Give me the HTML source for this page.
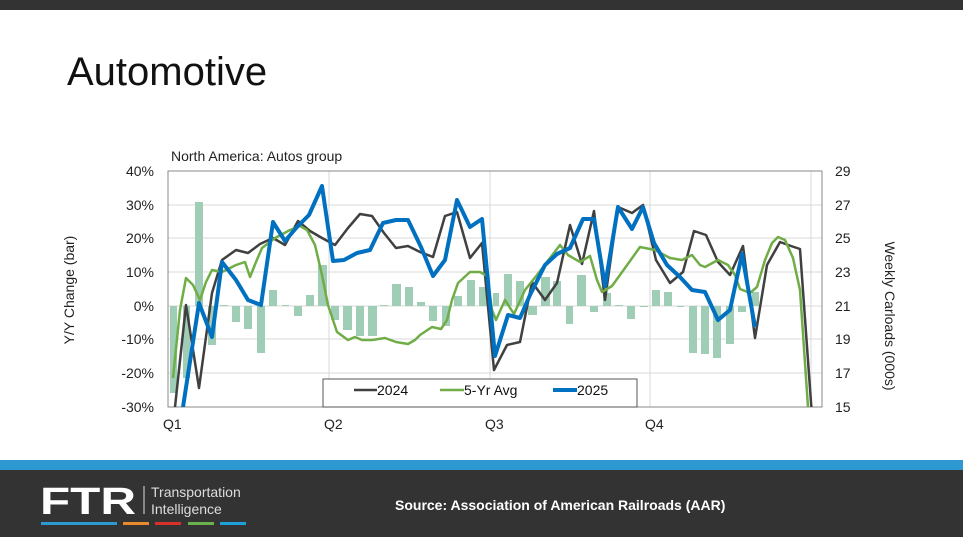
<!DOCTYPE html>
<html><head><meta charset="utf-8"><style>
body{margin:0;width:963px;height:537px;overflow:hidden;background:#fff;font-family:"Liberation Sans",sans-serif;position:relative}
</style></head><body>
<div style="position:absolute;left:0;top:0;width:963px;height:10px;background:#333"></div>
<div style="position:absolute;left:67px;top:50px;font-size:40px;color:#111">Automotive</div>
<svg style="position:absolute;left:0;top:0" width="963" height="537" font-family="Liberation Sans, sans-serif">
<text x="171" y="161" font-size="14" fill="#222">North America: Autos group</text>
<g stroke="#d9d9d9" stroke-width="1">
<line x1="168" y1="205" x2="822" y2="205"/><line x1="168" y1="238" x2="822" y2="238"/><line x1="168" y1="272" x2="822" y2="272"/><line x1="168" y1="306" x2="822" y2="306"/><line x1="168" y1="339" x2="822" y2="339"/><line x1="168" y1="373" x2="822" y2="373"/>
<line x1="329" y1="171" x2="329" y2="407"/><line x1="490" y1="171" x2="490" y2="407"/><line x1="650" y1="171" x2="650" y2="407"/><line x1="811" y1="171" x2="811" y2="407"/>
</g>
<rect x="168" y="171" width="654" height="236" fill="none" stroke="#888"/>
<g fill="#9fcdb5">
<rect x="170" y="306" width="7" height="87"/><rect x="183" y="306" width="7" height="72"/><rect x="195" y="202" width="8" height="104"/><rect x="208" y="306" width="8" height="39"/><rect x="220" y="305" width="8" height="1"/><rect x="232" y="306" width="8" height="16"/><rect x="244" y="306" width="8" height="23"/><rect x="257" y="306" width="8" height="47"/><rect x="269" y="290" width="8" height="16"/><rect x="282" y="305" width="7" height="1"/><rect x="294" y="306" width="8" height="10"/><rect x="306" y="295" width="8" height="11"/><rect x="318" y="265" width="9" height="41"/><rect x="331" y="306" width="8" height="14"/><rect x="343" y="306" width="9" height="24"/><rect x="356" y="306" width="8" height="30"/><rect x="368" y="306" width="9" height="30"/><rect x="380" y="305" width="8" height="1"/><rect x="392" y="284" width="9" height="22"/><rect x="405" y="287" width="8" height="19"/><rect x="417" y="302" width="8" height="4"/><rect x="429" y="306" width="8" height="15"/><rect x="442" y="306" width="8" height="20"/><rect x="454" y="296" width="8" height="10"/><rect x="467" y="280" width="8" height="26"/><rect x="479" y="287" width="8" height="19"/><rect x="493" y="293" width="6" height="13"/><rect x="504" y="274" width="8" height="32"/><rect x="516" y="281" width="8" height="25"/><rect x="528" y="306" width="9" height="9"/><rect x="541" y="277" width="9" height="29"/><rect x="553" y="281" width="8" height="25"/><rect x="566" y="306" width="7" height="18"/><rect x="577" y="275" width="9" height="31"/><rect x="590" y="306" width="8" height="6"/><rect x="603" y="293" width="8" height="13"/><rect x="615" y="305" width="8" height="1"/><rect x="627" y="306" width="8" height="13"/><rect x="640" y="306" width="8" height="1"/><rect x="652" y="290" width="8" height="16"/><rect x="664" y="292" width="8" height="14"/><rect x="677" y="306" width="7" height="1"/><rect x="689" y="306" width="8" height="47"/><rect x="701" y="306" width="8" height="48"/><rect x="713" y="306" width="8" height="52"/><rect x="726" y="306" width="8" height="38"/><rect x="738" y="306" width="8" height="6"/><rect x="752" y="292" width="7" height="14"/>
</g>
<clipPath id="c"><rect x="168" y="171" width="654" height="236"/></clipPath>
<g clip-path="url(#c)" fill="none" stroke-linejoin="round">
<polyline stroke="#404040" stroke-width="2.5" points="168,440 175,407 186,305 199,388 212,293 222,260 236,250 248,253 260,244 273,238 285,245 298,221 310,231 322,238 335,245 348,228 360,214 372,216 384,233 396,248 408,246 420,252 433,257 445,216 457,212 470,258 482,243 494,370 507,345 520,342 532,282 545,300 557,283 570,225 582,264 594,211 605,300 618,207 632,213 643,205 656,260 670,283 683,272 694,231 706,235 718,262 730,275 743,246 755,338 767,265 780,242 791,246 800,249 813,430"/>
<polyline stroke="#70ad47" stroke-width="2.5" points="173,378 180,310 186,278 193,285 200,300 206,282 212,270 222,272 236,265 245,262 250,277 256,262 262,248 275,238 290,230 300,226 307,230 315,245 322,275 328,305 337,332 348,340 355,337 362,340 372,340 385,338 396,342 408,344 415,340 420,335 432,327 441,329 447,320 452,300 458,283 470,272 480,272 487,276 492,310 496,320 505,300 514,314 525,290 537,275 550,258 560,245 568,255 580,262 590,256 597,280 602,292 612,286 625,268 640,247 655,250 670,258 682,260 692,255 700,265 705,267 718,260 728,265 735,275 740,289 750,293 757,287 765,260 772,243 778,237 785,240 793,258 800,290 808,407"/>
<polyline stroke="#0070c0" stroke-width="4" points="172,460 183,407 199,303 212,337 222,262 236,280 248,300 261,305 273,222 285,241 297,227 309,215 322,186 333,261 344,260 357,253 370,250 383,223 396,220 408,220 421,247 433,276 445,260 457,200 470,227 482,219 495,356 508,315 520,318 530,295 545,265 557,254 570,248 583,219 594,219 605,286 618,207 632,229 643,207 654,243 667,265 680,277 692,290 705,292 718,320 730,310 742,254 755,327"/>
</g>
<g font-size="14" fill="#222" text-anchor="end">
<text x="154" y="176">40%</text><text x="154" y="210">30%</text><text x="154" y="243">20%</text><text x="154" y="277">10%</text><text x="154" y="311">0%</text><text x="154" y="344">-10%</text><text x="154" y="378">-20%</text><text x="154" y="412">-30%</text>
</g>
<g font-size="14" fill="#222">
<text x="835" y="176">29</text><text x="835" y="210">27</text><text x="835" y="243">25</text><text x="835" y="277">23</text><text x="835" y="311">21</text><text x="835" y="344">19</text><text x="835" y="378">17</text><text x="835" y="412">15</text>
<text x="163" y="429">Q1</text><text x="324" y="429">Q2</text><text x="485" y="429">Q3</text><text x="645" y="429">Q4</text>
</g>
<text transform="translate(74,290) rotate(-90)" font-size="14" fill="#222" text-anchor="middle">Y/Y Change (bar)</text>
<text transform="translate(885,316) rotate(90)" font-size="14" fill="#222" text-anchor="middle">Weekly Carloads (000s)</text>
<rect x="323" y="379" width="314" height="28" fill="#fff" stroke="#555" stroke-width="1"/>
<line x1="354" y1="390" x2="377" y2="390" stroke="#404040" stroke-width="2.5"/><text x="377" y="395" font-size="14" fill="#111">2024</text>
<line x1="440" y1="390" x2="464" y2="390" stroke="#70ad47" stroke-width="2.5"/><text x="464" y="395" font-size="14" fill="#111">5-Yr Avg</text>
<line x1="553" y1="390" x2="577" y2="390" stroke="#0070c0" stroke-width="4"/><text x="577" y="395" font-size="14" fill="#111">2025</text>
<rect x="0" y="460" width="963" height="10" fill="#2e98d0"/>
<rect x="0" y="470" width="963" height="67" fill="#333"/>
<text x="40" y="514" font-size="38" font-weight="bold" fill="#fff" textLength="96" lengthAdjust="spacingAndGlyphs">FTR</text>
<line x1="144" y1="486" x2="144" y2="514" stroke="#ddd" stroke-width="1"/>
<text x="151" y="497" font-size="14" fill="#ddd">Transportation</text>
<text x="151" y="514" font-size="14" fill="#ddd">Intelligence</text>
<rect x="41" y="522" width="76" height="3" fill="#2e98d0"/><rect x="123" y="522" width="26" height="3" fill="#e8892b"/><rect x="155" y="522" width="26" height="3" fill="#d9302c"/><rect x="188" y="522" width="26" height="3" fill="#6ab04c"/><rect x="220" y="522" width="26" height="3" fill="#1fa0d8"/>
<text x="395" y="510" font-size="14" font-weight="bold" fill="#fff">Source: Association of American Railroads (AAR)</text>
</svg>
</body></html>
